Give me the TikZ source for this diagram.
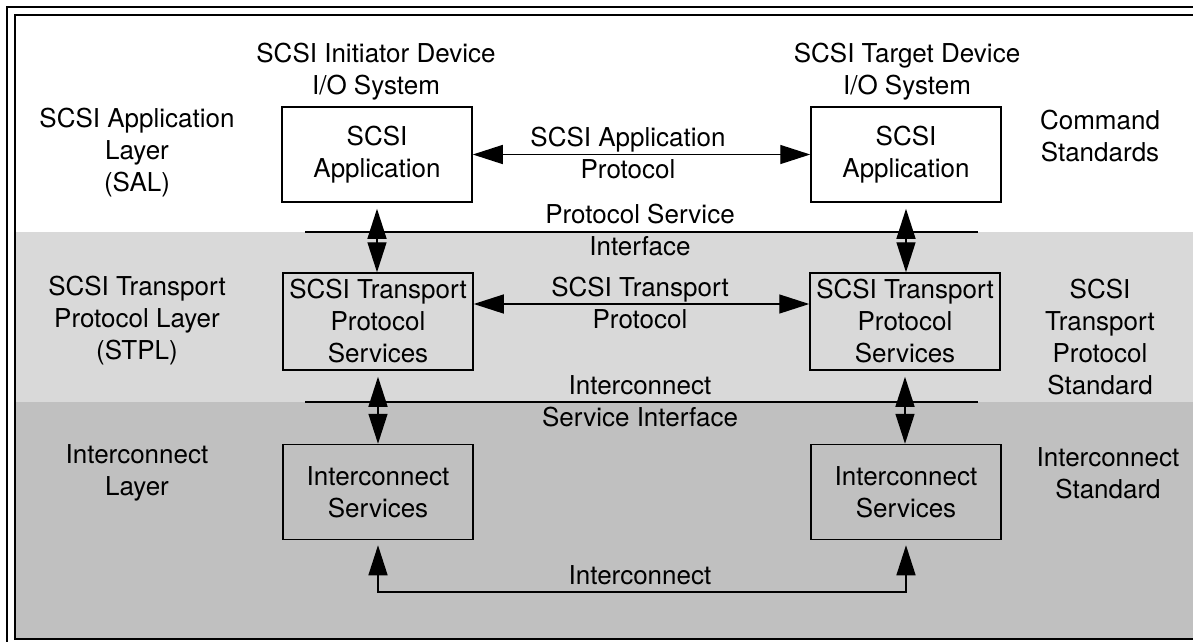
\documentclass[tikz,border=0pt]{standalone}
\usepackage{fontspec}
\setmainfont{TeX Gyre Heros}
\usetikzlibrary{arrows.meta}
\definecolor{lightband}{RGB}{217,217,217}
\definecolor{darkband}{RGB}{192,192,192}
\tikzset{
  every node/.style={font=\fontsize{26}{32}\selectfont, align=center, inner sep=0pt},
  boxnode/.style={draw, line width=1.5pt, minimum width=190pt, minimum height=95pt},
  conn/.style={line width=1.4pt, >={Triangle[length=30pt,width=19pt]}, <->},
  ifline/.style={line width=1.5pt},
}
\begin{document}
\begin{tikzpicture}[x=1pt,y=-1pt]
\useasboundingbox (0,0) rectangle (1193,641);
\clip (0,0) rectangle (1193,641);
% bands
\fill[lightband] (16,232) rectangle (1200,402);
\fill[darkband] (16,402) rectangle (1200,638);
% double border
\draw[line width=2pt] (6.5,6.5) rectangle (1215,648);
\draw[line width=2pt] (14.5,14.5) rectangle (1207,639);
% interface lines
\coordinate (psiA) at (305,232);
\coordinate (psiB) at (978,232);
\coordinate (isiA) at (305,402);
\coordinate (isiB) at (978,402);
\draw[ifline] (psiA) -- (psiB);
\draw[ifline] (isiA) -- (isiB);
% headers
\node (hdrL) at (376,72) {SCSI Initiator Device\\I/O System};
\node (hdrR) at (907,72) {SCSI Target Device\\I/O System};
% left labels
\node (salL) at (137,153) {SCSI Application\\Layer\\(SAL)};
\node (stplL) at (137,321) {SCSI Transport\\Protocol Layer\\(STPL)};
\node (iclL) at (137,473) {Interconnect\\Layer};
% right labels
\node (cmdR) at (1100,136) {Command\\Standards};
\node (stpsR) at (1100,337) {SCSI\\Transport\\Protocol\\Standard};
\node (icsR) at (1108,473) {Interconnect\\Standard};
% boxes
\node[boxnode] (appL) at (377,154.5) {SCSI\\Application};
\node[boxnode] (appR) at (906,154.5) {SCSI\\Application};
\node[boxnode, minimum height=97pt] (trL) at (378,321.5) {SCSI Transport\\Protocol\\Services};
\node[boxnode, minimum height=97pt] (trR) at (905,321.5) {SCSI Transport\\Protocol\\Services};
\node[boxnode] (icL) at (378,492) {Interconnect\\Services};
\node[boxnode] (icR) at (906,492) {Interconnect\\Services};
% middle labels
\node (sapLbl) at (628,153) {SCSI Application\\Protocol};
\node (psiLbl) at (640,230) {Protocol Service\\Interface};
\node (stpLbl) at (640,303) {SCSI Transport\\Protocol};
\node (isiLbl) at (640,401) {Interconnect\\Service Interface};
\node (icLbl) at (640,575) {Interconnect};
% connectors
\draw[conn] (appL) -- (appR);
\coordinate (tpy) at (640,304);
\draw[conn] (trL.east |- tpy) -- (trR.west |- tpy);
\draw[conn, shorten <=6pt] (appL.south) -- (appL.south |- trL.north);
\draw[conn, shorten <=6pt] (appR.south) -- (appR.south |- trR.north);
\draw[conn, shorten <=6pt] (trL.south) -- (trL.south |- icL.north);
\draw[conn, shorten <=6pt] (trR.south) -- (trR.south |- icR.north);
\coordinate (bus) at (640,592);
\draw[conn, shorten <=5pt, shorten >=5pt] (icL.south) -- (icL.south |- bus) -- (icR.south |- bus) -- (icR.south);
\end{tikzpicture}
\end{document}
